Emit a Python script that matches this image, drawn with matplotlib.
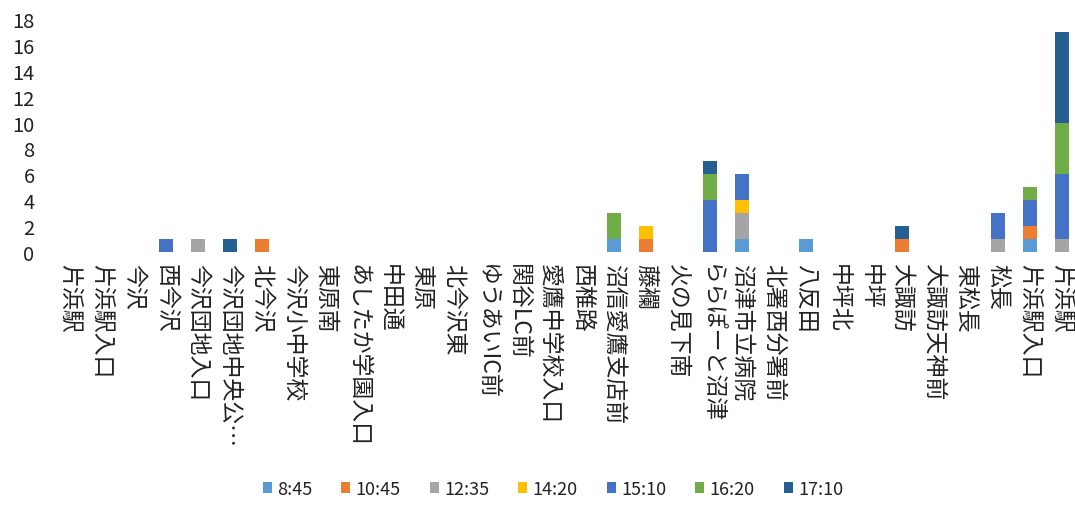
import numpy as np
import matplotlib
matplotlib.use("Agg")
import matplotlib.pyplot as plt

plt.rcParams['font.family'] = ['Noto Sans CJK JP', 'DejaVu Sans']

stops = ["片浜駅", "片浜駅入口", "今沢", "西今沢", "今沢団地入口", "今沢団地中央公…",
         "北今沢", "今沢小中学校", "東原南", "あしたか学園入口", "中田通", "東原",
         "北今沢東", "ゆうあいIC前", "関谷LC前", "愛鷹中学校入口", "西椎路",
         "沼信愛鷹支店前", "藤襴", "火の見下南", "ららぽーと沼津", "沼津市立病院",
         "北署西分署前", "八反田", "中坪北", "中坪", "大諏訪", "大諏訪天神前",
         "東松長", "松長", "片浜駅入口", "片浜駅"]

times = ["8:45", "10:45", "12:35", "14:20", "15:10", "16:20", "17:10"]
colors = ["#5b9bd5", "#ed7d31", "#a5a5a5", "#ffc000", "#4472c4", "#70ad47", "#255e91"]

# counts per stop, one list per departure time
t0845 = [0,0,0,0,0,0,0,0,0,0,0,0,0,0,0,0,0,1,0,0,0,1,0,1,0,0,0,0,0,0,1,0]
t1045 = [0,0,0,0,0,0,1,0,0,0,0,0,0,0,0,0,0,0,1,0,0,0,0,0,0,0,1,0,0,0,1,0]
t1235 = [0,0,0,0,1,0,0,0,0,0,0,0,0,0,0,0,0,0,0,0,0,2,0,0,0,0,0,0,0,1,0,1]
t1420 = [0,0,0,0,0,0,0,0,0,0,0,0,0,0,0,0,0,0,1,0,0,1,0,0,0,0,0,0,0,0,0,0]
t1510 = [0,0,0,1,0,0,0,0,0,0,0,0,0,0,0,0,0,0,0,0,4,2,0,0,0,0,0,0,0,2,2,5]
t1620 = [0,0,0,0,0,0,0,0,0,0,0,0,0,0,0,0,0,2,0,0,2,0,0,0,0,0,0,0,0,0,1,4]
t1710 = [0,0,0,0,0,1,0,0,0,0,0,0,0,0,0,0,0,0,0,0,1,0,0,0,0,0,1,0,0,0,0,7]
series = [t0845, t1045, t1235, t1420, t1510, t1620, t1710]

fig = plt.figure(figsize=(10.75, 5.06), dpi=100)
ax = fig.add_axes([54/1075, 1 - 253/506, (1078-54)/1075, (253-20)/506])

x = np.arange(len(stops))
bottom = np.zeros(len(stops))
for name, vals, c in zip(times, series, colors):
    ax.bar(x, vals, 0.44, bottom=bottom, color=c, label=name)
    bottom += np.array(vals)

ax.set_xlim(-0.5, len(stops) - 0.5)
ax.set_ylim(0, 18)
ax.set_yticks(range(0, 19, 2))
ax.set_xticks(x)
ax.set_xticklabels(stops, rotation=-90, ha='center', va='top', fontsize=16.5, color='#222222')
ax.tick_params(axis='x', length=0, pad=8)
ax.tick_params(axis='y', length=0, pad=14, labelsize=14.5, labelcolor='#222222')
for s in ax.spines.values():
    s.set_visible(False)

fig.legend(loc='center', bbox_to_anchor=(553/1075, 1 - 490/506), ncol=7, frameon=False,
           fontsize=13, handlelength=0.5, handleheight=0.5, handletextpad=0.3,
           columnspacing=1.6, labelcolor='#222222')

fig.savefig("out.png", dpi=100)
